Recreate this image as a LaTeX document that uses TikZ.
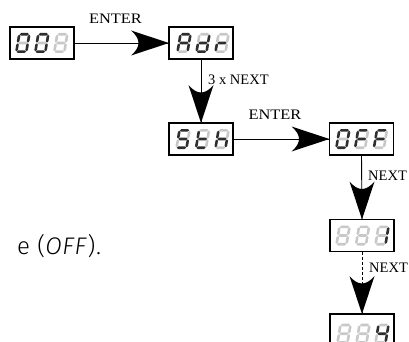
\documentclass[tikz,border=0pt]{standalone}
\usepackage{fontspec}
\setmainfont{Liberation Serif}
\newfontfamily\bodysans[LetterSpace=3]{Fira Sans Light}
\definecolor{segon}{HTML}{2E2E2E}
\definecolor{segoff}{HTML}{C8C8C8}
\newcommand\hsegm[4]{\fill[#4] (#1,#3) -- ({#1+1.3},{#3-1.3}) -- ({#2-1.3},{#3-1.3}) -- (#2,#3) -- ({#2-1.3},{#3+1.3}) -- ({#1+1.3},{#3+1.3}) -- cycle;}
\newcommand\vsegm[4]{\fill[#4] (#1,#2) -- ({#1+1.3},{#2+1.3}) -- ({#1+1.3},{#3-1.3}) -- (#1,#3) -- ({#1-1.3},{#3-1.3}) -- ({#1-1.3},{#2+1.3}) -- cycle;}
\newcommand\bitcol[2]{\ifnum#2=1 \colorlet{#1}{segon}\else\colorlet{#1}{segoff}\fi}
\newcommand\segdraw[7]{%
  \bitcol{sA}{#1}\bitcol{sB}{#2}\bitcol{sC}{#3}\bitcol{sD}{#4}%
  \bitcol{sE}{#5}\bitcol{sF}{#6}\bitcol{sG}{#7}%
  \hsegm{0.4}{9.6}{0}{sA}
  \vsegm{10}{0.4}{8.3}{sB}
  \vsegm{10}{9.1}{17}{sC}
  \hsegm{0.4}{9.6}{17.4}{sD}
  \vsegm{0}{9.1}{17}{sE}
  \vsegm{0}{0.4}{8.3}{sF}
  \hsegm{0.4}{9.6}{8.7}{sG}}
\tikzset{
  pics/digit/.style={code={\begin{scope}[xslant=0.17]\segdraw#1\end{scope}}},
  pics/bighead/.style={code={\fill[black] (0,0) -- (-38,-12.5) .. controls (-28,-4) and (-28,4) .. (-38,12.5) -- cycle;}},
  disp/.style={draw=black, line width=1.3pt, fill=white, minimum width=64pt, minimum height=32pt, inner sep=0pt, outer sep=0pt},
  conn/.style={draw=black, line width=0.9pt},
  lbl/.style={font=\fontsize{14.5}{16}\selectfont, inner sep=0pt},
}
\begin{document}
\begin{tikzpicture}[x=1pt,y=-1pt]
\useasboundingbox (0,0) rectangle (409,342);
\clip (0,0) rectangle (409,342);
% boxes
\node[disp] (b1) at (42,43) {};
\node[disp] (b2) at (201,43) {};
\node[disp] (b3) at (201,139) {};
\node[disp] (b4) at (361.5,139) {};
\node[disp] (b5) at (362,235.5) {};
\node[disp, draw=none, minimum height=40pt] (b6) at (362,334) {};
\draw[line width=1.3pt] (b6.south west) -- (b6.north west) -- (b6.north east) -- (b6.south east);
% digits
\pic at ([shift={(9.3,7.3)}]b1.north west) {digit=1111110};
\pic at ([shift={(28.3,7.3)}]b1.north west) {digit=1111110};
\pic at ([shift={(47.3,7.3)}]b1.north west) {digit=0000000};
\pic at ([shift={(11.5,7.3)}]b2.north west) {digit=1110111};
\pic at ([shift={(30.5,7.3)}]b2.north west) {digit=0111101};
\pic at ([shift={(49.5,7.3)}]b2.north west) {digit=0000101};
\pic at ([shift={(10.5,7.3)}]b3.north west) {digit=1011011};
\pic at ([shift={(30,7.3)}]b3.north west) {digit=0001111};
\pic at ([shift={(49.5,7.3)}]b3.north west) {digit=0010111};
\pic at ([shift={(9.8,7.3)}]b4.north west) {digit=1111110};
\pic at ([shift={(28.6,7.3)}]b4.north west) {digit=1000111};
\pic at ([shift={(47.4,7.3)}]b4.north west) {digit=1000111};
\pic at ([shift={(9.5,7.3)}]b5.north west) {digit=0000000};
\pic at ([shift={(29,7.3)}]b5.north west) {digit=0000000};
\pic at ([shift={(48.5,7.3)}]b5.north west) {digit=0110000};
\pic at ([shift={(10.5,11)}]b6.north west) {digit=0000000};
\pic at ([shift={(29.5,11)}]b6.north west) {digit=0000000};
\pic at ([shift={(48.5,11)}]b6.north west) {digit=0110011};
% connectors
\draw[conn] (b1.east) -- (b2.west);
\pic at (b2.west) {bighead};
\draw[conn] (b2.south) -- (b3.north);
\pic[rotate=-90] at (b3.north) {bighead};
\draw[conn] (b3.east) -- (b4.west);
\pic at (b4.west) {bighead};
\draw[conn] (b4.south) -- (b5.north);
\pic[rotate=-90] at (b5.north) {bighead};
\draw[conn, dash pattern=on 3pt off 2pt] (b5.south) -- (b6.north);
\pic[rotate=-90] at (b6.north) {bighead};
% labels
\node[lbl, anchor=base, xscale=1.13] (l1) at (115.5,24) {ENTER};
\node[lbl, anchor=base west] (l2) at (208,85) {3 x NEXT};
\node[lbl, anchor=base, xscale=1.13] (l3) at (275,120) {ENTER};
\node[lbl, anchor=base west] (l4) at (368,180) {NEXT};
\node[lbl, anchor=base west] (l5) at (369,272) {NEXT};
\node[anchor=base west, inner sep=0pt, font=\bodysans\fontsize{24}{28}\selectfont] (txt) at (17,254) {e (\textit{OFF}).};
\end{tikzpicture}
\end{document}
